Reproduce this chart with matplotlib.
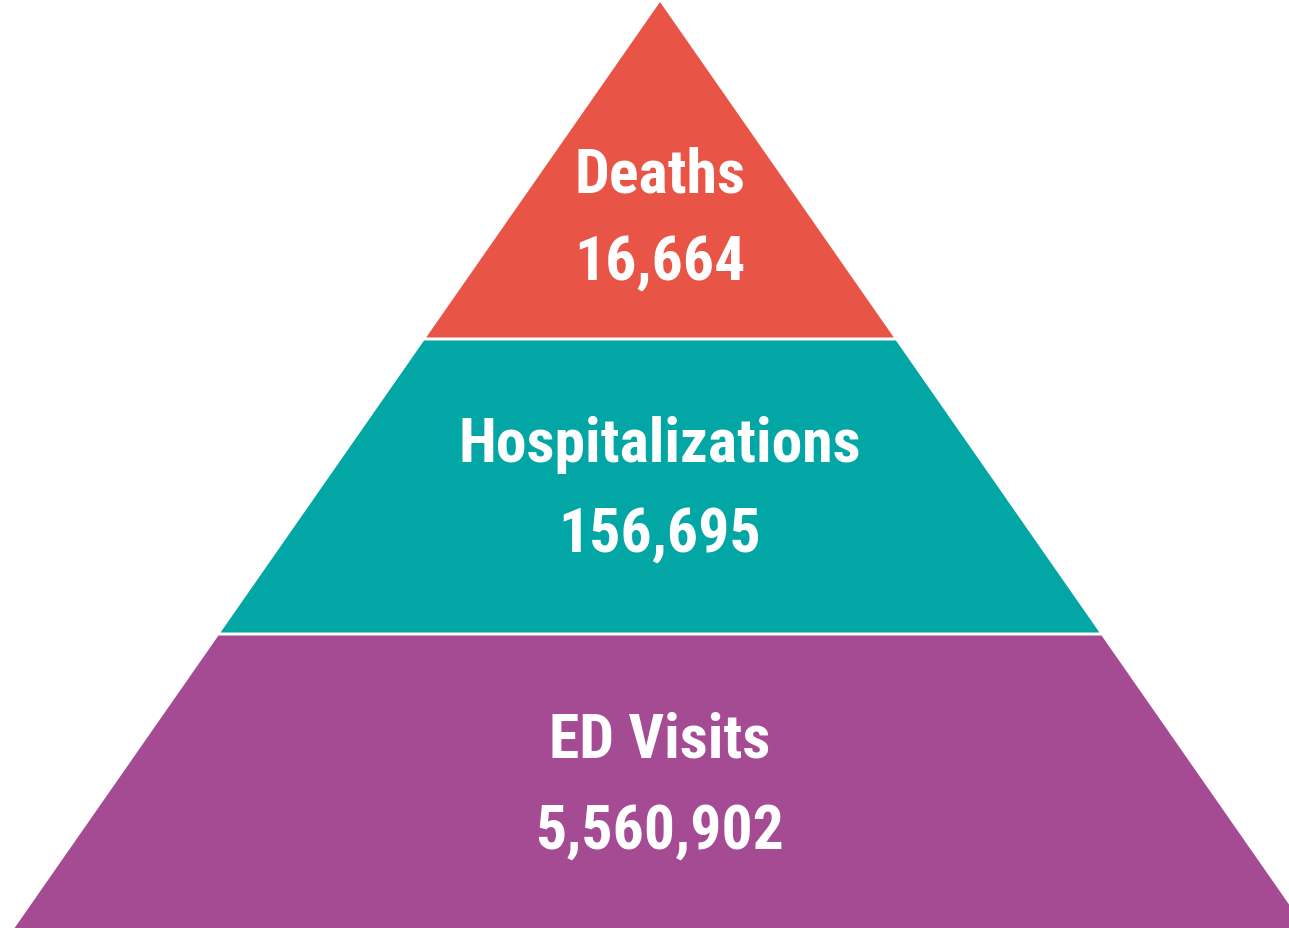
import matplotlib
matplotlib.use("Agg")
import matplotlib.pyplot as plt
from matplotlib.patches import Polygon

# tiers from top to bottom
labels = ["Deaths", "Hospitalizations", "ED Visits"]
values = [16664, 156695, 5560902]
colors = ["#E85446", "#02A6A4", "#A54B94"]

W, H = 1289, 929
apex_x, apex_y = 660, 3
slope = 0.697  # horizontal run per pixel of drop
bounds = [3, 340, 635, 1000]  # tier edges in pixel rows

fig = plt.figure(figsize=(W / 100, H / 100), dpi=100)
ax = fig.add_axes([0, 0, 1, 1])
ax.set_xlim(0, W)
ax.set_ylim(H, 0)
ax.axis("off")


def half_width(y):
    return (y - apex_y) * slope


for i, (lab, val, col) in enumerate(zip(labels, values, colors)):
    y0, y1 = bounds[i], bounds[i + 1]
    top = y0 + (1.5 if i > 0 else 0)
    bot = y1 - 1.5
    pts = [(apex_x - half_width(top), top), (apex_x + half_width(top), top),
           (apex_x + half_width(bot), bot), (apex_x - half_width(bot), bot)]
    ax.add_patch(Polygon(pts, closed=True, facecolor=col, edgecolor="none"))

font = dict(ha="center", va="center", color="white", fontsize=44.5,
            fontweight="bold", family=["Roboto Condensed", "DejaVu Sans"])
text_y = [(175, 263), (445, 535), (740, 832)]
for (ly, vy), lab, val in zip(text_y, labels, values):
    ax.text(apex_x, ly, lab, **font)
    ax.text(apex_x, vy, "{:,}".format(val), **font)

fig.savefig("out.png", dpi=100)
